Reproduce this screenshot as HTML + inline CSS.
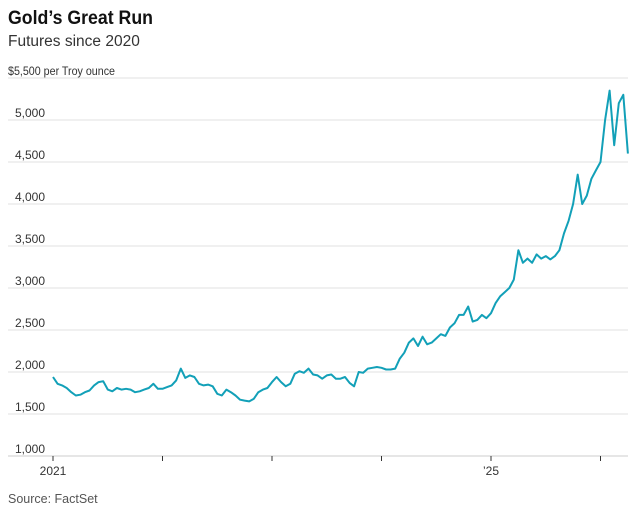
<!DOCTYPE html>
<html><head><meta charset="utf-8"><style>
body{margin:0;background:#fff;width:643px;height:519px;overflow:hidden;font-family:"Liberation Sans",sans-serif}
</style></head><body>
<svg width="643" height="519">
<text x="8" y="24" font-size="19" font-weight="bold" fill="#111" textLength="145" lengthAdjust="spacingAndGlyphs">Gold’s Great Run</text>
<text x="8" y="46" font-size="15.5" fill="#333">Futures since 2020</text>
<g id="grid"></g>
<g id="xaxis"></g>
<path id="line" fill="none" stroke="#12a0b8" stroke-width="2" stroke-linejoin="round"/>
<text x="8" y="503" font-size="12.5" fill="#555">Source: FactSet</text>
</svg>
<script>
const yTicks=[1000,1500,2000,2500,3000,3500,4000,4500,5000,5500];
const yTickLabels=["1,000","1,500","2,000","2,500","3,000","3,500","4,000","4,500","5,000","$5,500 per Troy ounce"];
const xTicks=[2021,2022,2023,2024,2025,2026];
const xTickLabels=["2021","","","","’25",""];
const startYear=2021, stepYears=1/24;
const prices=[
1940,1860,1840,1810,1760,1720,1730,1760,1780,1840,1880,1890,1790,1770,1810,1790,1800,1790,1760,1770,1790,1810,1860,1800,
1800,1820,1840,1900,2040,1930,1960,1940,1860,1840,1850,1830,1740,1720,1790,1760,1720,1670,1660,1650,1680,1760,1790,1810,
1880,1940,1880,1830,1860,1980,2010,1990,2040,1970,1960,1920,1960,1970,1920,1920,1940,1870,1830,2000,1990,2040,2050,2060,
2050,2030,2030,2040,2160,2230,2350,2400,2310,2420,2330,2350,2400,2450,2430,2530,2580,2680,2680,2780,2600,2620,2680,2640,
2700,2820,2900,2950,3000,3100,3450,3300,3350,3300,3400,3350,3380,3340,3380,3450,3650,3800,4000,4350,4000,4100,4300,4400,
4500,5000,5350,4700,5200,5300,4600];
const NS="http://www.w3.org/2000/svg";
const x=t=>53+(t-2021)*109.5;
const y=v=>456-(v-1000)*0.084;
const grid=document.getElementById('grid');
yTicks.forEach((v,i)=>{
 const l=document.createElementNS(NS,'line');
 l.setAttribute('x1',8);l.setAttribute('x2',628);l.setAttribute('y1',y(v));l.setAttribute('y2',y(v));
 l.setAttribute('stroke',i==0?'#ddd':'#ebebeb');l.setAttribute('stroke-width',1.5);
 
 
 grid.appendChild(l);
 const t=document.createElementNS(NS,'text');
 const top=i==yTicks.length-1;
 t.setAttribute('x',top?8:15);t.setAttribute('y',y(v)-3);
 t.setAttribute('font-size','12');t.setAttribute('fill','#333');
 if(top){t.setAttribute('textLength','107');t.setAttribute('lengthAdjust','spacingAndGlyphs');}
 t.textContent=yTickLabels[i];
 
 
 grid.appendChild(t);
});
const xa=document.getElementById('xaxis');
xTicks.forEach((yr,i)=>{
 const l=document.createElementNS(NS,'line');
 l.setAttribute('x1',x(yr));l.setAttribute('x2',x(yr));l.setAttribute('y1',456);l.setAttribute('y2',461);
 l.setAttribute('stroke','#333');l.setAttribute('stroke-width',1);
 
 
 xa.appendChild(l);
 if(xTickLabels[i]){
 const t=document.createElementNS(NS,'text');
 t.setAttribute('x',x(yr));t.setAttribute('y',475);t.setAttribute('text-anchor','middle');
 t.setAttribute('font-size','12');t.setAttribute('fill','#333');
 t.textContent=xTickLabels[i];
 
 
 xa.appendChild(t);}
});
document.getElementById('line').setAttribute('d',prices.map((v,i)=>(i?'L':'M')+x(startYear+i*stepYears).toFixed(1)+','+y(v).toFixed(1)).join(''));
</script>
</body></html>
